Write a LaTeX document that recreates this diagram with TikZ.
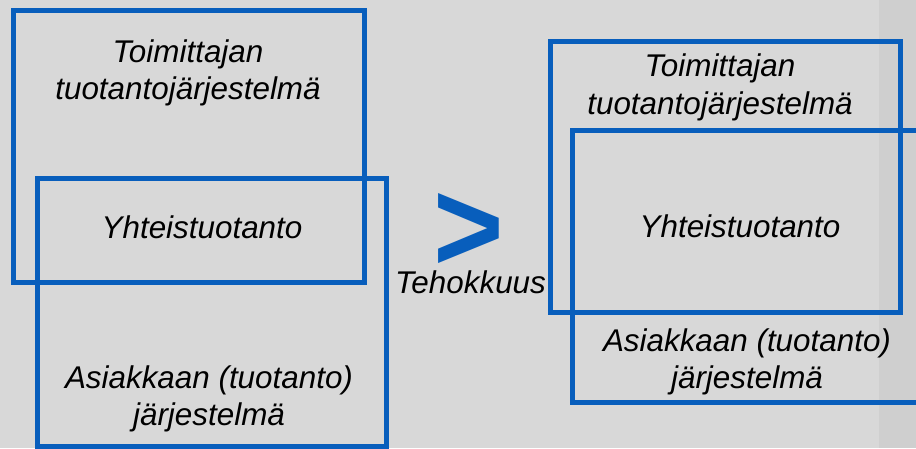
\documentclass[tikz,border=0pt]{standalone}
\usepackage{fontspec}
\setmainfont{Liberation Sans}
\definecolor{frameBlue}{RGB}{8,94,188}
\definecolor{bgGray}{RGB}{216,216,216}
\definecolor{stripGray}{RGB}{207,207,207}
\begin{document}
\begin{tikzpicture}[x=1pt, y=-1pt,
		frame/.style={draw=frameBlue, line width=5pt, inner sep=0pt},
		boxtext/.style={font=\fontsize{31.4}{37.7}\selectfont\itshape, align=center, inner sep=0pt}]
		
		\useasboundingbox (0,0) rectangle (916,448);
		\clip (0,0) rectangle (916,448);
		\fill[bgGray] (0,0) rectangle (916,448);
		\fill[stripGray] (879,0) rectangle (916,448);
		
		\node[frame, minimum width=351pt, minimum height=271.5pt] (supL) at (188.5,146.25) {};
		\node[frame, minimum width=349pt, minimum height=268pt] (cusL) at (211.5,312) {};
		
		\node[frame, minimum width=350pt, minimum height=271pt] (supR) at (725,176.5) {};
		\node[frame, minimum width=388pt, minimum height=272pt] (cusR) at (766,266) {};
		
		\node[boxtext] (supLtext) at (188,73) {Toimittajan\\tuotantojärjestelmä};
		\node[boxtext, anchor=base] (coLtext) at (202,238) {Yhteistuotanto};
		\node[boxtext] (cusLtext) at (209,399) {Asiakkaan (tuotanto)\\järjestelmä};
		
		\node[inner sep=0pt, anchor=base, text depth=0pt, text=frameBlue, font=\fontsize{130}{130}\selectfont\bfseries] (gt) at (468.5,260) {\raisebox{-11pt}{\scalebox{0.93}[1]{>}}};
		\node[boxtext, anchor=base] (effText) at (470.5,293) {Tehokkuus};
		
		\node[boxtext] (supRtext) at (720,87.3) {Toimittajan\\tuotantojärjestelmä};
		\node[boxtext, anchor=base] (coRtext) at (740,237) {Yhteistuotanto};
		\node[boxtext] (cusRtext) at (747,362) {Asiakkaan (tuotanto)\\järjestelmä};
		
	\end{tikzpicture}
\end{document}
